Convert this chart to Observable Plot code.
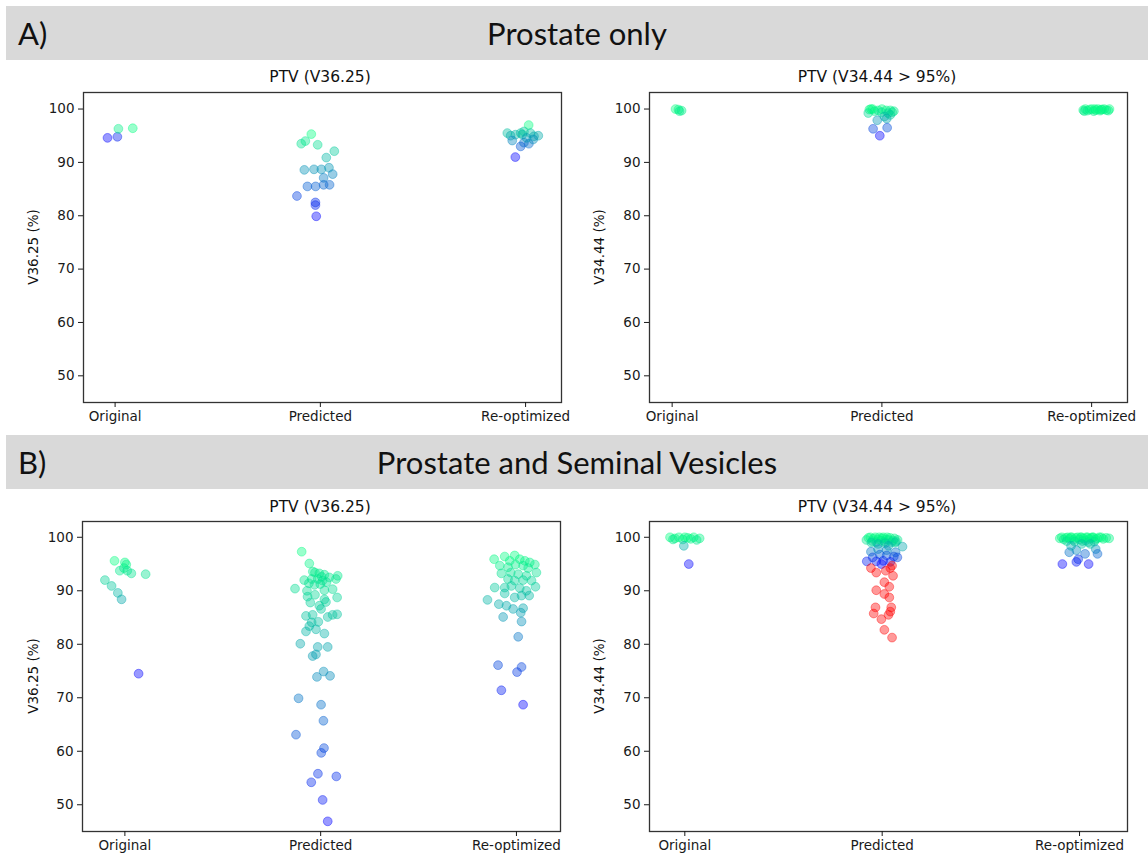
<!DOCTYPE html>
<html><head><meta charset="utf-8">
<script src="https://cdn.jsdelivr.net/npm/d3@7"></script>
<script src="https://cdn.jsdelivr.net/npm/@observablehq/plot@0.6"></script>
<style>
body{margin:0;background:#fff;}
#root{position:relative;width:1148px;height:857px;overflow:hidden;font-family:"DejaVu Sans",sans-serif;color:#111;}
.bar{position:absolute;left:6px;width:1142px;height:54px;background:#d9d9d9;font-family:Lato,sans-serif;font-size:31px;color:#111;}
.bar .tag{position:absolute;left:12px;top:50%;transform:translateY(-50%);}
.bar .ttl{position:absolute;left:571px;top:50%;transform:translate(-50%,-50%);white-space:nowrap;}
.ptitle{position:absolute;transform:translate(-50%,-50%);font-size:15.5px;white-space:nowrap;}
.ylab{position:absolute;transform:translate(-50%,-50%) rotate(-90deg);font-size:13.5px;white-space:nowrap;}
</style></head>
<body><div id="root">
<div class="bar" style="top:6px"><span class="tag">A)</span><span class="ttl">Prostate only</span></div>
<div class="bar" style="top:435px"><span class="tag">B)</span><span class="ttl">Prostate and Seminal Vesicles</span></div>
<div class="ptitle" style="left:320px;top:77px">PTV (V36.25)</div>
<div class="ptitle" style="left:877px;top:77px">PTV (V34.44 &gt; 95%)</div>
<div class="ptitle" style="left:320px;top:507px">PTV (V36.25)</div>
<div class="ptitle" style="left:877px;top:507px">PTV (V34.44 &gt; 95%)</div>
<div class="ylab" style="left:33px;top:247px">V36.25 (%)</div>
<div class="ylab" style="left:599px;top:247px">V34.44 (%)</div>
<div class="ylab" style="left:33px;top:676px">V36.25 (%)</div>
<div class="ylab" style="left:599px;top:676px">V34.44 (%)</div>
</div>
<script>
const categories = ["Original", "Predicted", "Re-optimized"];
const yTicks = [50, 60, 70, 80, 90, 100];

// ---- A) Prostate only : PTV V36.25  [jitter, value]
const aV36Original = [[-0.037,94.6],[0.011,94.8],[0.016,96.3],[0.086,96.4]];
const aV36Predicted = [[-0.044,95.3],[-0.093,93.5],[-0.073,94.0],[-0.013,93.3],[0.068,92.1],[0.029,90.9],
  [-0.078,88.6],[-0.031,88.7],[0.005,88.7],[0.042,89.0],[0.06,87.8],[0.016,87.1],
  [-0.063,85.5],[-0.023,85.5],[0.016,85.8],[0.045,85.8],[-0.114,83.7],[-0.024,82.5],[-0.024,82.0],[-0.02,79.9]];
const aV36Reopt = [[0.015,97.0],[-0.089,95.5],[-0.073,95.0],[-0.049,95.2],[-0.024,95.5],[-0.016,95.2],[-0.008,95.8],
  [0.024,95.5],[0.041,94.9],[0.062,95.0],[-0.065,94.1],[-0.008,93.7],[0.016,93.5],[0.037,94.3],[-0.024,93.0],[-0.05,91.0],[0.005,94.6]];

// ---- A) Prostate only : PTV V34.44
const aV34Original = [[0.016,100],[0.03,99.9],[0.045,99.7],[0.035,99.6]];
const aV34Predicted = [[-0.06,99.9],[-0.044,100],[-0.018,99.75],[0.0,100],[0.02,99.75],[0.04,99.75],[0.049,99.4],
  [-0.065,99.25],[-0.035,99.6],[-0.002,99.4],[0.03,99.25],[0.057,99.6],[0.012,98.6],[-0.052,100],
  [-0.022,97.9],[0.023,98.2],[0.04,98.9],[-0.042,96.3],[0.025,96.5],[-0.01,95.0]];
const aV34Reopt = [[-0.04,99.8],[-0.03,100],[-0.02,99.7],[-0.01,99.9],[0,100],[0.01,99.6],[0.02,99.8],[0.03,100],
  [0.04,99.7],[0.05,99.9],[0.06,100],[0.07,99.8],[0.08,99.7],[0.085,100],[-0.035,99.6],[0.015,100],[0.045,99.9]];

// ---- B) Prostate and Seminal Vesicles : PTV V36.25
const bV36Original = [[-0.053,95.6],[0,95.3],[0.007,94.9],[-0.005,94.25],[0.012,93.75],[-0.026,93.75],[0.033,93.25],
  [0.106,93.1],[-0.102,92.0],[-0.068,90.9],[-0.036,89.6],[-0.017,88.4],[0.07,74.5]];
const bV36Predicted = [[-0.097,97.3],[-0.058,95.1],
  [-0.029,93.4],[-0.007,93.25],[0.019,93.0],[0.044,92.5],[0.087,92.8],[-0.04,93.6],[0.005,92.6],
  [-0.084,92.0],[-0.046,92.2],[-0.015,92.2],[0.01,91.9],[0.078,92.2],[0.03,91.6],[-0.06,91.4],
  [-0.032,91.1],[-0.002,91.25],
  [-0.131,90.4],[-0.07,90.0],[0.019,90.1],[0.061,90.3],
  [-0.067,88.9],[-0.029,89.25],[0.019,88.4],[0.084,88.75],
  [-0.053,87.8],[-0.007,87.2],[0.027,87.9],[0.002,86.6],
  [-0.075,85.3],[-0.041,85.5],[0.036,85.1],[0.061,85.5],[0.084,85.6],
  [-0.046,84.1],[-0.012,84.2],[-0.058,83.4],
  [-0.075,82.4],[-0.024,82.8],[0.019,82.0],
  [-0.104,80.1],[-0.015,79.5],[0.036,79.5],
  [-0.041,77.8],[-0.024,78.1],
  [0.015,74.9],[-0.019,73.9],[0.048,74.1],
  [-0.113,69.9],[0.002,68.7],[0.014,65.7],[-0.126,63.1],[0.017,60.6],[0.003,59.7],[-0.014,55.8],
  [-0.048,54.2],[0.08,55.3],[0.01,50.9],[0.036,46.9]];
const bV36Reopt = [[-0.114,95.9],[-0.06,96.4],[-0.034,95.6],[-0.009,96.6],[0.017,95.9],[0.043,95.6],[0.068,95.3],[0.094,94.9],
  [-0.085,94.7],[-0.043,94.4],[-0.005,94.9],[0.034,94.7],[0.06,94.25],[0.102,93.4],
  [-0.077,93.25],[-0.029,93.4],[0.009,93.1],[0.051,92.8],
  [-0.043,92.2],[-0.009,91.9],[0.034,92.0],[0.077,91.9],
  [-0.111,90.6],[-0.06,90.6],[-0.026,90.9],[0.017,90.5],[0.051,90.0],[0.097,90.75],
  [-0.06,89.5],[-0.009,88.75],[0.026,89.1],[0.065,89.1],
  [-0.148,88.3],[-0.09,87.5],[-0.051,87.2],[-0.017,86.6],[0.034,86.75],
  [-0.068,85.1],[0.022,85.9],[0.026,84.25],[0.009,81.4],
  [-0.094,76.1],[0.026,75.75],[0.003,74.8],[-0.077,71.4],[0.034,68.7]];

// ---- B) Prostate and Seminal Vesicles : PTV V34.44
const bV34Original = [[-0.075,100],[-0.05,99.8],[-0.03,100],[-0.01,99.6],[0,100],[0.015,99.9],[0.03,99.7],
  [0.045,100],[0.06,99.5],[0.075,99.8],[-0.06,99.6],[-0.005,98.4],[0.02,95.0]];
const bV34Predicted = [[-0.08,99.5],[-0.07,99.9],[-0.06,100],[-0.05,99.3],[-0.045,99.7],[-0.035,100],[-0.03,99.1],
  [-0.02,99.6],[-0.015,100],[-0.005,99.4],[0,99.8],[0.005,100],[0.012,99.2],[0.02,99.6],[0.025,100],[0.033,99.5],
  [0.04,99.9],[0.048,99.1],[0.055,99.4],[0.062,99.8],[0.07,99.2],[0.078,99.5],[-0.055,99.0],[0.015,98.9],[0.065,99.0],
  [0.103,98.25],[-0.021,98.75],[0.032,98.4],
  [-0.057,97.3],[-0.021,97.8],[0.023,97.6],[0.068,97.2],[-0.048,96.25],[-0.012,96.75],[0.023,96.6],[0.059,96.4],
  [-0.03,95.5],[0.005,95.6],[0.041,95.4],[0.077,96.25],[-0.078,95.5],[-0.004,95.0],
  [-0.057,94.25],[-0.03,93.4],[0.018,93.75],[0.041,94.25],[0.05,94.7],[0.055,92.8],[0.011,91.6],[0.036,90.75],
  [-0.03,90.1],[0.011,89.4],[0.036,88.75],[-0.034,86.9],[0.046,86.9],[-0.043,85.75],[0.041,86.1],[-0.004,84.7],
  [0.032,85.5],[0.011,82.7],[0.05,81.25]];
const bV34Reopt = [[-0.1,99.8],[-0.09,100],[-0.08,99.6],[-0.07,99.9],[-0.06,100],[-0.05,99.7],[-0.04,100],[-0.03,99.5],
  [-0.02,99.9],[-0.01,100],[0,99.6],[0.01,100],[0.02,99.8],[0.03,99.4],[0.04,100],[0.05,99.7],[0.06,99.9],[0.07,100],
  [0.08,99.6],[0.09,99.8],[0.1,100],[0.12,99.7],[0.135,99.9],[0.15,99.8],[-0.065,99.3],[-0.025,99.2],[0.015,99.3],
  [0.045,99.1],[0.075,99.2],[0.005,100],[-0.045,100],[0.035,100],[0.065,100],[0.11,100],
  [-0.052,97.2],[-0.016,97.6],[0.028,96.9],[0.082,97.8],[0.091,96.9],[-0.007,95.9],[-0.016,95.4],[-0.087,95.0],
  [0.046,95.0],[0.011,98.75],[0.055,98.75],[-0.043,98.4]];

const root = document.getElementById("root");

// per-column normalisation (V36.25) or fixed 95..100 with red under threshold (V34.44)
function rowsFor(columns, mode) {
  const rows = [];
  columns.forEach((col, i) => {
    const [lo, hi] = d3.extent(col, d => d[1]);
    col.forEach(([j, v]) => {
      let t, red = false;
      if (mode === "fixed") { t = Math.max(0, Math.min(1, (v - 95) / 5)); red = v < 95; }
      else { t = hi > lo ? (v - lo) / (hi - lo) : 1; }
      rows.push({x: i + j, y: v, t, red});
    });
  });
  return rows;
}

function panel({left, top, xDomain, yDomain, rows, allowRed}) {
  const mL = 50, mR = 12, mT = 10, mB = 34, W = 478, H = 310;
  const normal = rows.filter(d => !(allowRed && d.red));
  const reds = rows.filter(d => allowRed && d.red);
  const svg = Plot.plot({
    width: W + mL + mR, height: H + mT + mB,
    marginLeft: mL, marginRight: mR, marginTop: mT, marginBottom: mB,
    x: {domain: xDomain},
    y: {domain: yDomain},
    color: {type: "linear", domain: [0, 1], range: ["#0000ff", "#00ff80"], interpolate: "rgb"},
    style: {fontFamily: "DejaVu Sans", fontSize: "13.5px", color: "#1a1a1a", background: "transparent", overflow: "visible"},
    marks: [
      Plot.dot(normal, {x: "x", y: "y", r: 4.4, fill: "t", stroke: "t", fillOpacity: 0.4, strokeOpacity: 0.4, strokeWidth: 1}),
      Plot.dot(reds, {x: "x", y: "y", r: 4.4, fill: "#ff0000", stroke: "#ff0000", fillOpacity: 0.4, strokeOpacity: 0.4, strokeWidth: 1}),
      Plot.frame({stroke: "#333", strokeWidth: 1.3}),
      Plot.axisX({ticks: [0, 1, 2], tickFormat: i => categories[i], tickSize: 5, tickPadding: 4, label: null}),
      Plot.axisY({ticks: yTicks, tickSize: 5, tickPadding: 4, label: null})
    ]
  });
  svg.style.position = "absolute";
  svg.style.left = (left - mL) + "px";
  svg.style.top = (top - mT) + "px";
  root.appendChild(svg);
}

panel({left: 83, top: 92, xDomain: [-0.154, 2.175], yDomain: [45, 103.1],
  rows: rowsFor([aV36Original, aV36Predicted, aV36Reopt], "column")});
panel({left: 649, top: 92, xDomain: [-0.108, 2.171], yDomain: [45, 103.1],
  rows: rowsFor([aV34Original, aV34Predicted, aV34Reopt], "fixed"), allowRed: true});
panel({left: 82, top: 521, xDomain: [-0.2165, 2.225], yDomain: [45, 102.95],
  rows: rowsFor([bV36Original, bV36Predicted, bV36Reopt], "column")});
panel({left: 649, top: 521, xDomain: [-0.179, 2.243], yDomain: [45, 102.95],
  rows: rowsFor([bV34Original, bV34Predicted, bV34Reopt], "fixed"), allowRed: true});
</script>
</body></html>
